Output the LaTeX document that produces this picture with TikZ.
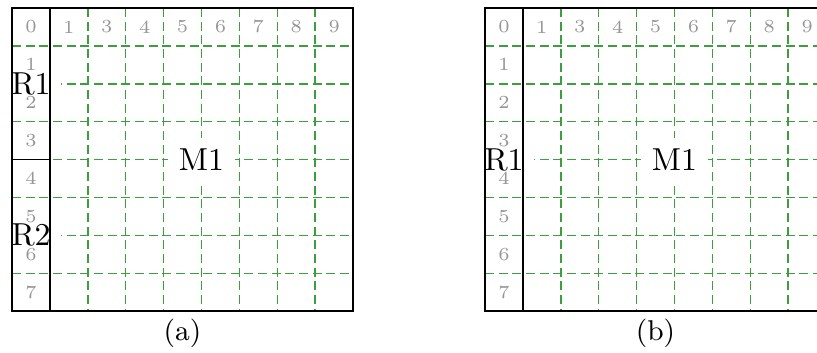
\documentclass[tikz,border=0pt]{standalone}
\definecolor{gridgreen}{RGB}{60,158,60}
\definecolor{idxgray}{RGB}{150,150,150}
\begin{document}
\begin{tikzpicture}[x=0.3145pt,y=-0.3145pt,
  gridline/.style={draw=gridgreen, line width=0.45pt, dash pattern=on 2.8pt off 1.5pt},
  border/.style={draw=black, line width=0.55pt},
  region/.style={fill=white, font=\normalsize, inner sep=3.3pt},
  idx/.style={text=idxgray, font=\fontsize{5.8}{7}\selectfont, inner sep=0pt},
  capt/.style={font=\small, anchor=base}]
\def\cs{37.9}
\useasboundingbox (0,0) rectangle (817,353);
\clip (0,0) rectangle (817,353);
% ---------- panel (a)
\begin{scope}[shift={(12,8)}]
  \path[gridline] \foreach \k in {1,...,7} {(0,{\k*\cs}) -- ({9*\cs},{\k*\cs})}
                  \foreach \k in {2,...,8} {({\k*\cs},0) -- ({\k*\cs},{8*\cs})};
  \node[region] (aR1) at ({0.5*\cs},{2*\cs}) {R1};
  \node[region] (aR2) at ({0.5*\cs},{6*\cs}) {R2};
  \node[region] (aM1) at ({5*\cs},{4*\cs}) {M1};
  \foreach \t [count=\c from 0] in {0,1,3,4,5,6,7,8,9}
    \node[idx] (ac\c) at ({(\c+0.5)*\cs},{0.5*\cs}) {\t};
  \foreach \r in {1,...,7}
    \node[idx] (ar\r) at ({0.5*\cs},{(\r+0.5)*\cs}) {\r};
  \path[border] (0,0) rectangle ({9*\cs},{8*\cs})
                (\cs,0) -- (\cs,{8*\cs})
                (0,{4*\cs}) -- (\cs,{4*\cs});
  \node[capt] (capa) at ({4.5*\cs},333) {(a)};
\end{scope}
% ---------- panel (b)
\begin{scope}[shift={(485,8)}]
  \path[gridline] \foreach \k in {1,...,7} {(0,{\k*\cs}) -- ({9*\cs},{\k*\cs})}
                  \foreach \k in {2,...,8} {({\k*\cs},0) -- ({\k*\cs},{8*\cs})};
  \node[region] (bR1) at ({0.5*\cs},{4*\cs}) {R1};
  \node[region] (bM1) at ({5*\cs},{4*\cs}) {M1};
  \foreach \t [count=\c from 0] in {0,1,3,4,5,6,7,8,9}
    \node[idx] (bc\c) at ({(\c+0.5)*\cs},{0.5*\cs}) {\t};
  \foreach \r in {1,...,7}
    \node[idx] (br\r) at ({0.5*\cs},{(\r+0.5)*\cs}) {\r};
  \path[border] (0,0) rectangle ({9*\cs},{8*\cs})
                (\cs,0) -- (\cs,{8*\cs});
  \node[capt] (capb) at ({4.5*\cs},333) {(b)};
\end{scope}
\end{tikzpicture}
\end{document}
